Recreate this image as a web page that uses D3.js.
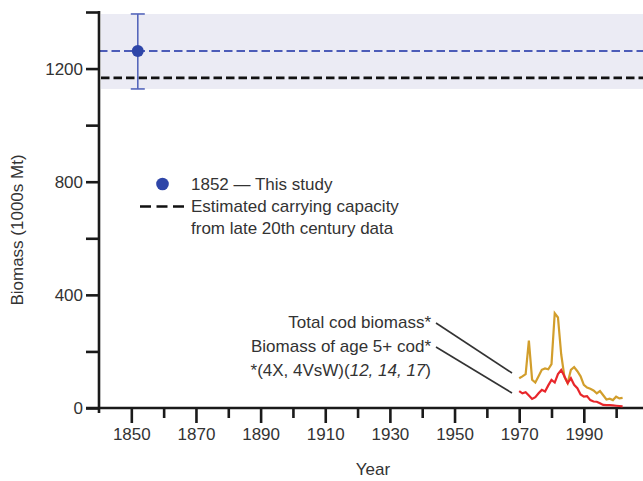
<!DOCTYPE html>
<html>
<head>
<meta charset="utf-8">
<script src="https://cdn.jsdelivr.net/npm/d3@7"></script>
<style>
  body { margin: 0; background: #fff; }
  text { font-family: "Liberation Sans", Arial, sans-serif; fill: #333; }
</style>
</head>
<body>
<div id="chart-area"></div>
<script>
// cod biomass, Scotian Shelf - 1852 estimate vs modern series

var years = [1970, 1971, 1972, 1973, 1974, 1975, 1976, 1977, 1978, 1979, 1980,
             1981, 1982, 1983, 1984, 1985, 1986, 1987, 1988, 1989, 1990,
             1991, 1992, 1993, 1994, 1995, 1996, 1997, 1998, 1999, 2000, 2001, 2002];
var totalBiomass = [105, 112, 120, 238, 100, 90, 112, 135, 140, 137, 155,
                    335, 320, 190, 110, 88, 135, 145, 130, 112, 82,
                    72, 68, 62, 52, 60, 45, 30, 33, 28, 40, 34, 36];
var age5Biomass = [60, 52, 56, 44, 32, 38, 52, 64, 58, 80, 99,
                   90, 120, 134, 112, 88, 105, 82, 70, 48, 40,
                   42, 28, 23, 22, 17, 11, 10, 10, 9, 8, 7, 6];

var studyYear = 1852;
var studyValue = 1262;
var studyLow = 1128;
var studyHigh = 1393;
var carryingCapacity = 1167;

var yTicks = [0, 200, 400, 600, 800, 1000, 1200, 1400];
var yLabels = [0, 400, 800, 1200];
var xTicks = [1850, 1860, 1870, 1880, 1890, 1900, 1910, 1920, 1930, 1940, 1950, 1960, 1970, 1980, 1990, 2000];
var xLabels = [1850, 1870, 1890, 1910, 1930, 1950, 1970, 1990];

var legendItems = ["1852 \u2014 This study", "Estimated carrying capacity", "from late 20th century data"];
var noteLines = ["Total cod biomass*", "Biomass of age 5+ cod*"];

var width = 643, height = 481;

var svg = d3.select("#chart-area")
    .append("svg")
        .attr("width", width)
        .attr("height", height);

var x = d3.scaleLinear()
    .domain([1840, 2008])
    .range([99, 642]);

var y = d3.scaleLinear()
    .domain([0, 1400])
    .range([408, 12]);

// shaded band of the 1852 estimate
svg.append("rect")
    .attr("x", x(1840) + 2)
    .attr("y", y(studyHigh))
    .attr("width", x(2008) - x(1840))
    .attr("height", y(studyLow) - y(studyHigh))
    .attr("fill", "#ebebf4");

// carrying capacity line
svg.append("line")
    .attr("x1", x(1840) + 2).attr("x2", width)
    .attr("y1", y(carryingCapacity)).attr("y2", y(carryingCapacity))
    .attr("stroke", "#111")
    .attr("stroke-width", 2.6)
    .attr("stroke-dasharray", "8.5,4");

// 1852 mean line
svg.append("line")
    .attr("x1", x(1840)).attr("x2", width)
    .attr("y1", y(studyValue)).attr("y2", y(studyValue))
    .attr("stroke", "#4c5cb8")
    .attr("stroke-width", 2)
    .attr("stroke-dasharray", "8.5,4");

// error bar
var eb = svg.append("g").attr("stroke", "#5566bb").attr("stroke-width", 1.6);
eb.append("line")
    .attr("x1", x(studyYear)).attr("x2", x(studyYear))
    .attr("y1", y(studyHigh)).attr("y2", y(studyLow));
eb.append("line")
    .attr("x1", x(studyYear) - 7).attr("x2", x(studyYear) + 7)
    .attr("y1", y(studyHigh)).attr("y2", y(studyHigh));
eb.append("line")
    .attr("x1", x(studyYear) - 7).attr("x2", x(studyYear) + 7)
    .attr("y1", y(studyLow)).attr("y2", y(studyLow));

svg.append("circle")
    .attr("cx", x(studyYear))
    .attr("cy", y(studyValue))
    .attr("r", 6)
    .attr("fill", "#2e45a8");

// Y Axis
var yAxisCall = d3.axisLeft(y)
    .tickValues(yTicks)
    .tickSize(13)
    .tickSizeOuter(0)
    .tickPadding(3)
    .tickFormat(function(d){ return yLabels.indexOf(d) >= 0 ? d : ""; });
var yAxisGroup = svg.append("g")
    .attr("transform", "translate(" + x(1840) + ",0)")
    .call(yAxisCall);
yAxisGroup.select(".domain").attr("d", "M0," + (y(1400) - 1) + "V" + (y(0) + 5));

// X Axis
var xAxisCall = d3.axisBottom(x)
    .tickValues(xTicks)
    .tickSize(14)
    .tickSizeOuter(0)
    .tickPadding(6)
    .tickFormat(function(d){ return xLabels.indexOf(d) >= 0 ? d : ""; });
var xAxisGroup = svg.append("g")
    .attr("transform", "translate(0," + y(0) + ")")
    .call(xAxisCall);
xAxisGroup.select(".domain").attr("d", "M" + (x(1840) - 13) + ",0H" + width);
xAxisGroup.selectAll(".tick line")
    .attr("y2", function(d){ return xLabels.indexOf(d) >= 0 ? 15 : 10; });

svg.selectAll(".domain, .tick line")
    .attr("stroke", "#1a1a1a")
    .attr("stroke-width", 2.6);
svg.selectAll(".tick text")
    .attr("font-size", "17px")
    .attr("font-family", "Liberation Sans, Arial, sans-serif")
    .attr("fill", "#333");

// series lines
var line = d3.line()
    .x(function(d){ return x(d[0]); })
    .y(function(d){ return y(d[1]); });

svg.append("path")
    .datum(years.map(function(yr, i){ return [yr, totalBiomass[i]]; }))
    .attr("d", line)
    .attr("fill", "none")
    .attr("stroke", "#d29e2c")
    .attr("stroke-width", 2.2);

svg.append("path")
    .datum(years.map(function(yr, i){ return [yr, age5Biomass[i]]; }))
    .attr("d", line)
    .attr("fill", "none")
    .attr("stroke", "#e8262b")
    .attr("stroke-width", 2.2);

// annotations
var noteY = [322, 346];
var noteEnd = [[512, 373], [512, 393]];
noteLines.forEach(function(t, i){
    svg.append("text")
        .attr("x", 431)
        .attr("y", noteY[i])
        .attr("dy", "0.35em")
        .attr("text-anchor", "end")
        .attr("font-size", "17px")
        .text(t);
    svg.append("line")
        .attr("x1", 436).attr("y1", noteY[i] + 1)
        .attr("x2", noteEnd[i][0]).attr("y2", noteEnd[i][1])
        .attr("stroke", "#333")
        .attr("stroke-width", 1.6);
});

var src = svg.append("text")
    .attr("x", 431)
    .attr("y", 370)
    .attr("dy", "0.35em")
    .attr("text-anchor", "end")
    .attr("font-size", "17px");
src.append("tspan").text("*(4X, 4VsW)(");
src.append("tspan").attr("font-style", "italic").text("12, 14, 17");
src.append("tspan").text(")");

// legend
svg.append("circle")
    .attr("cx", 162.5)
    .attr("cy", 184)
    .attr("r", 6.3)
    .attr("fill", "#2e45a8");
svg.append("line")
    .attr("x1", 140).attr("x2", 189)
    .attr("y1", 206.5).attr("y2", 206.5)
    .attr("stroke", "#111")
    .attr("stroke-width", 2.6)
    .attr("stroke-dasharray", "11,5.5");
legendItems.forEach(function(t, i){
    svg.append("text")
        .attr("x", 191)
        .attr("y", 184 + i * 22.2)
        .attr("dy", "0.35em")
        .attr("font-size", "17px")
        .text(t);
});

// Axis labels
svg.append("text")
    .attr("x", 373)
    .attr("y", 469)
    .attr("dy", "0.35em")
    .attr("text-anchor", "middle")
    .attr("font-size", "17px")
    .text("Year");

svg.append("text")
    .attr("transform", "translate(17,230) rotate(-90)")
    .attr("dy", "0.35em")
    .attr("text-anchor", "middle")
    .attr("font-size", "17px")
    .text("Biomass (1000s Mt)");
</script>
</body>
</html>
